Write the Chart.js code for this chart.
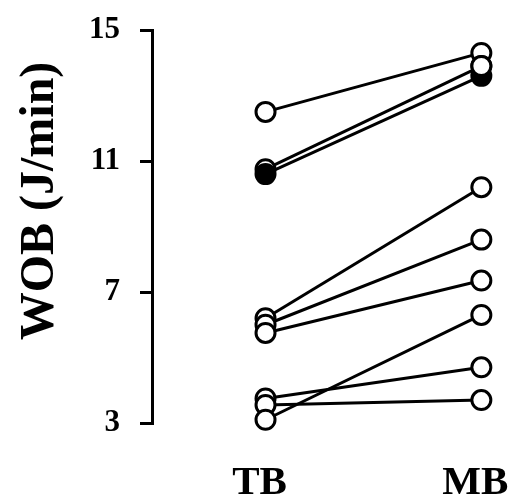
<!DOCTYPE html>
<html>
<head>
<meta charset="utf-8">
<script src="https://cdn.jsdelivr.net/npm/chart.js@4/dist/chart.umd.min.js"></script>
<style>
  html, body { margin: 0; padding: 0; background: #fff; }
  #wrap { width: 515px; height: 504px; }
</style>
</head>
<body>
<div id="wrap"><canvas id="c" width="515" height="504"></canvas></div>
<script>
// Conditions on the x axis
const categories = ['TB', 'MB'];
// Work of breathing per subject, J/min
const tbValues = [12.5, 10.75, 10.6, 6.2, 6.0, 5.75, 3.75, 3.55, 3.1];
const mbValues = [14.3, 13.9, 13.6, 10.2, 8.6, 7.35, 4.7, 3.7, 6.3];
// Subject drawn with a solid marker
const solidSubject = [false, false, true, false, false, false, false, false, false];
const yTicks = [3, 7, 11, 15];
const yTitle = 'WOB (J/min)';

const serif = "'Liberation Serif', 'Times New Roman', serif";

function subjectSet(i) {
  return {
    data: [{ x: 1, y: tbValues[i] }, { x: 2, y: mbValues[i] }],
    borderColor: '#000',
    borderWidth: 3,
    pointRadius: 9.5,
    pointBorderWidth: 3,
    pointBorderColor: '#000',
    pointBackgroundColor: solidSubject[i] ? '#000' : '#fff',
    clip: false
  };
}

// lower starting values are drawn on top (first dataset draws last)
const indices = tbValues.map((v, i) => i).sort((a, b) => tbValues[a] - tbValues[b]);
const datasets = indices.map(subjectSet);

// the open marker at MB sits above the solid one
const openTop = 1;
datasets.unshift({
  data: [{ x: 2, y: mbValues[openTop] }],
  showLine: false,
  pointRadius: 9.5,
  pointBorderWidth: 3,
  pointBorderColor: '#000',
  pointBackgroundColor: '#fff',
  clip: false
});

const yTitlePlugin = {
  id: 'yTitle',
  afterDraw(chart) {
    const ctx = chart.ctx;
    ctx.save();
    ctx.translate(41, 201);
    ctx.rotate(-Math.PI / 2);
    ctx.font = 'bold 48px ' + serif;
    ctx.fillStyle = '#000';
    ctx.textAlign = 'center';
    ctx.textBaseline = 'middle';
    ctx.fillText(yTitle, 0, 0);
    ctx.restore();
  }
};

function noEdgePadding(scale) {
  scale.paddingLeft = 0;
  scale.paddingRight = 0;
  scale.paddingTop = 0;
  scale.paddingBottom = 0;
}

new Chart(document.getElementById('c'), {
  type: 'scatter',
  data: { datasets },
  plugins: [yTitlePlugin],
  options: {
    responsive: false,
    animation: false,
    showLine: true,
    layout: { padding: { top: 30, right: 0, bottom: 0, left: 0 } },
    plugins: { legend: { display: false }, tooltip: { enabled: false } },
    scales: {
      x: {
        type: 'linear',
        min: 0.474,
        max: 2.098,
        afterBuildTicks(scale) { scale.ticks = [1, 2].map(v => ({ value: v })); },
        afterFit(scale) { scale.height = 81; noEdgePadding(scale); },
        grid: { display: false, drawTicks: false },
        border: { display: false },
        ticks: {
          color: '#000',
          padding: 36,
          labelOffset: -6,
          font: { family: serif, size: 41, weight: 'bold' },
          callback: v => categories[v - 1]
        }
      },
      y: {
        min: 3,
        max: 15,
        afterBuildTicks(scale) { scale.ticks = yTicks.map(v => ({ value: v })); },
        afterFit(scale) { scale.width = 152; noEdgePadding(scale); },
        grid: { drawOnChartArea: false, drawTicks: true, tickLength: 12, color: '#000', lineWidth: 3 },
        border: { display: true, color: '#000', width: 3 },
        ticks: {
          color: '#000',
          padding: 20,
          font: { family: serif, size: 31, weight: 'bold' }
        }
      }
    }
  }
});
</script>
</body>
</html>
